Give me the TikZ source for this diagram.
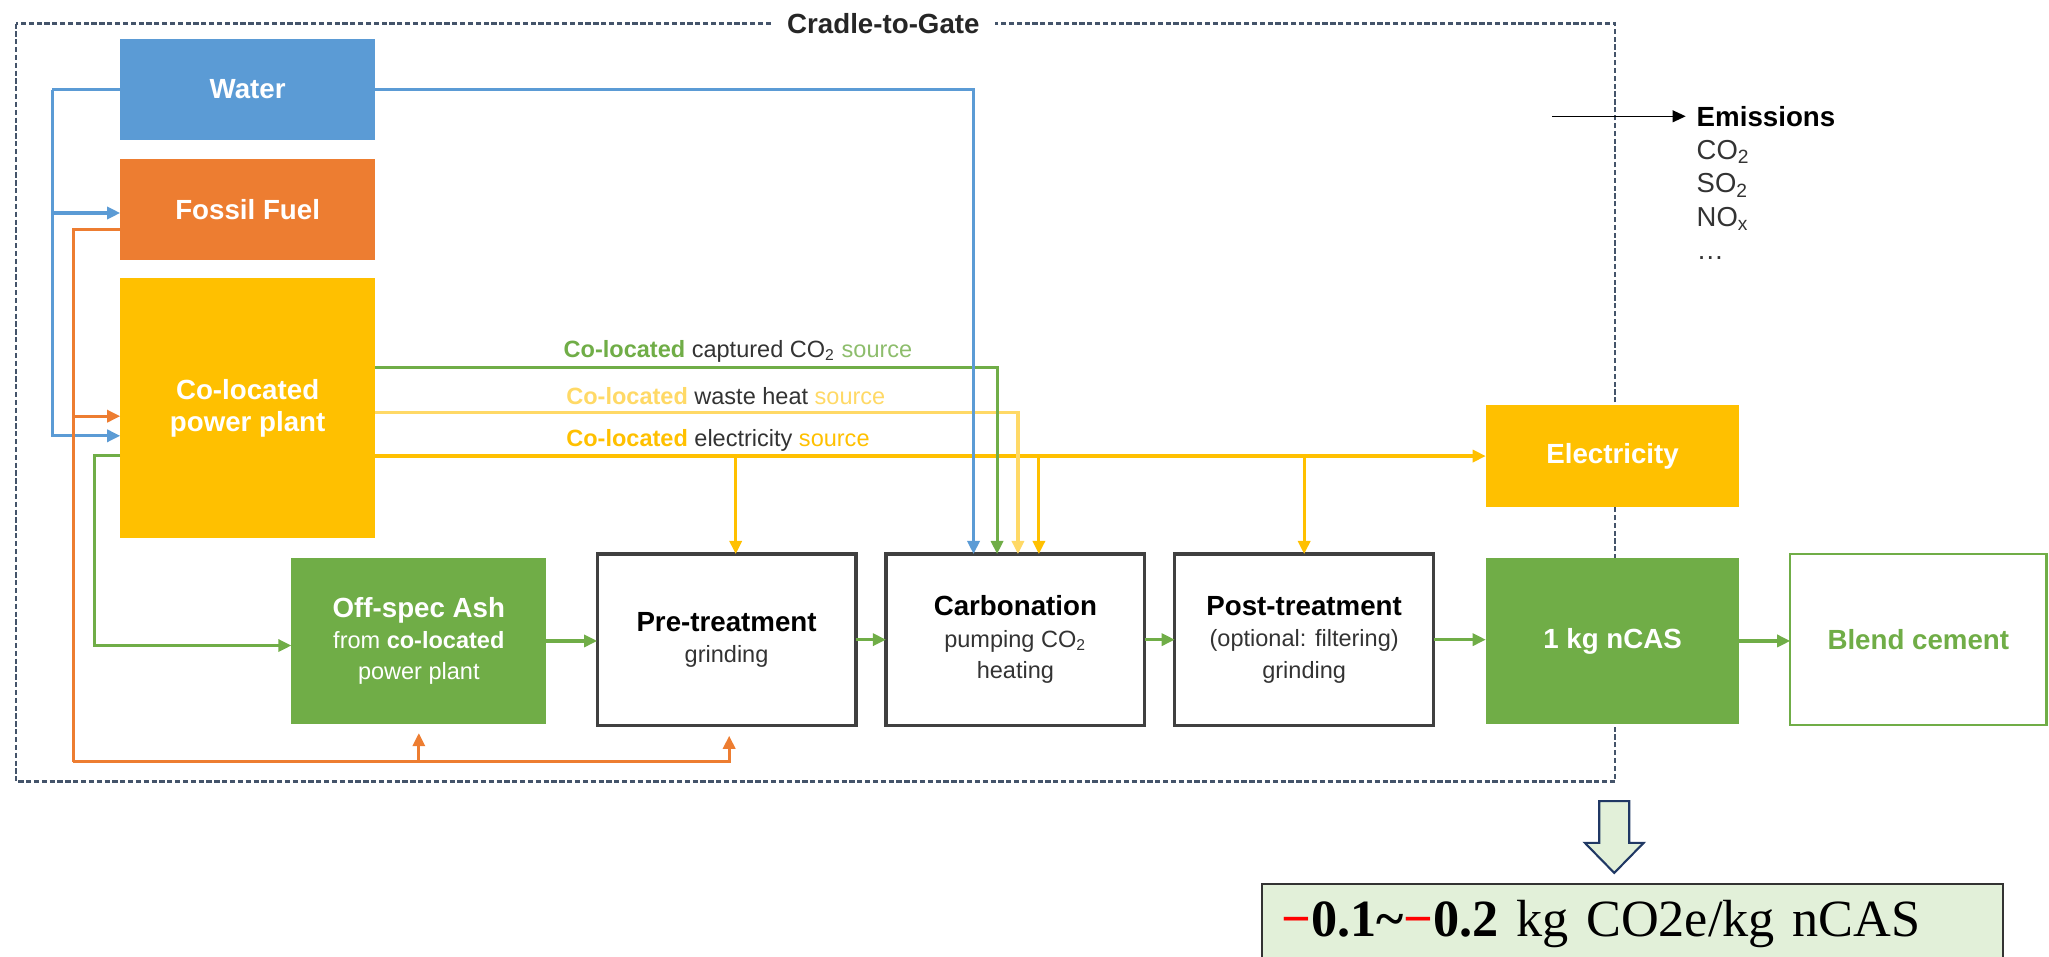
\documentclass[tikz,border=0pt]{standalone}
\usepackage{fontspec}
\setmainfont{Liberation Sans}
\newfontfamily\resfont{Liberation Serif}
\usetikzlibrary{positioning, arrows.meta, calc}

\definecolor{cblue}{HTML}{5B9BD5}
\definecolor{corange}{HTML}{ED7D31}
\definecolor{cgold}{HTML}{FFC000}
\definecolor{cgreen}{HTML}{70AD47}
\definecolor{cpale}{HTML}{FFD966}
\definecolor{cslate}{HTML}{44546A}
\definecolor{cmint}{HTML}{E2F0D9}
\definecolor{cnavy}{HTML}{203864}
\definecolor{cink}{HTML}{333333}

\newcommand{\ttl}[1]{{\fontsize{10.6}{12}\selectfont\bfseries #1}}

\begin{document}
\begin{tikzpicture}[
    x=0.5pt, y=-0.5pt,
    font=\fontsize{9}{12}\selectfont,
    box/.style={rectangle, inner sep=2pt, outer sep=0pt, align=center,
                minimum width=97.5pt},
    filled/.style={box, fill=#1, text=white},
    proc/.style={box, draw=black!75, line width=1.2pt, fill=white, text=cink,
                 minimum width=99pt, minimum height=65.5pt},
    flow/.style={line width=1.2pt, -{Triangle[length=5pt,width=4.6pt]}},
    pipe/.style={line width=1.2pt},
    lbl/.style={anchor=west, inner sep=0pt, text=cink},
    gateframe/.style={draw=cslate, line width=0.9pt, dash pattern=on 2pt off 1pt},
  ]

\useasboundingbox (0,0) rectangle (1568,732);
\clip (0,0) rectangle (1568,732);

% system boundary
\draw[gateframe] (12,18) rectangle (1236,598);
\node[fill=white, inner xsep=6pt, inner ysep=1pt, text=black!85] (cradle) at (676,18) {\ttl{Cradle-to-Gate}};

% sources
\node[filled=cblue, minimum height=38.5pt] (water) at (189.5,68.5) {\ttl{Water}};
\node[filled=corange, minimum height=38.5pt] (fossil) at (189.5,160.5) {\ttl{Fossil Fuel}};
\node[filled=cgold, minimum height=99.5pt] (plant) at (189.5,312.5) {\ttl{Co-located}\\\ttl{power plant}};

% process chain
\node[filled=cgreen, minimum height=63.5pt] (ash) at (320.5,490.5)
    {\ttl{Off-spec Ash}\\from \textbf{co-located}\\power plant};
\node[proc] (pre) at (556,489.5) {\textcolor{black}{\ttl{Pre-treatment}}\\grinding};
\node[proc] (carb) at (777,489.5) {\textcolor{black}{\ttl{Carbonation}}\\pumping CO\textsubscript{2}\\heating};
\node[proc] (post) at (998,489.5) {\textcolor{black}{\ttl{Post-treatment}}\\(optional: filtering)\\grinding};
\node[filled=cgreen, minimum width=97pt, minimum height=63.5pt] (ncas) at (1234,490.5) {\ttl{1 kg nCAS}};
\node[box, draw=cgreen, line width=0.9pt, text=cgreen, minimum width=98pt,
      minimum height=65.5pt] (blend) at (1468,489.5) {\ttl{Blend cement}};
\node[filled=cgold, minimum width=97pt, minimum height=39pt] (elec) at (1234,349) {\ttl{Electricity}};

% left-side feeds
\coordinate (wbus) at ($(water.west)+(-52,0)$);
\draw[pipe, cblue] (water.west) -- (wbus);
\draw[flow, cblue] (wbus) |- ($(fossil.west)+(0,2.5)$);
\draw[flow, cblue] (wbus) |- ($(plant.west)+(0,21)$);

\coordinate (fbus) at ($(fossil.west)+(-36,15)$);
\coordinate (fbot) at (56,583);
\draw[pipe, corange] ($(fossil.west)+(0,15)$) -- (fbus) -- (fbot);
\draw[flow, corange] (fbot) -| ($(pre.south)+(2,8)$);
\draw[flow, corange] (fbot) -| ($(ash.south)+(0,7)$);
\draw[flow, corange] ($(fbus |- plant.west)+(0,6)$) -- ($(plant.west)+(0,6)$);

\draw[flow, cgreen] ($(plant.west)+(0,36)$) -- ++(-20,0) |- ($(ash.west)+(0,3.5)$);

% co-located supplies
\draw[flow, cgold] (plant.east |- elec.west) -- (elec.west);
\foreach \n/\dx in {pre/7, carb/18, post/0}
    \draw[flow, cgold] ($(\n.north |- elec.west)+(\dx,0)$) -- ($(\n.north)+(\dx,0)$);
\draw[flow, cpale] ($(plant.east)+(0,3)$) -| ($(carb.north)+(2,0)$);
\draw[flow, cgreen] ($(plant.east)+(0,-31)$) -| ($(carb.north)+(-14,0)$);
\draw[flow, cblue] (water.east) -| ($(carb.north)+(-32,0)$);

\node[lbl] (lblco2) at (431,269)
    {\textcolor{cgreen}{\textbf{Co-located}} captured CO\textsubscript{2} \textcolor{cgreen!80}{source}};
\node[lbl] (lblheat) at (433,303)
    {\textcolor{cpale}{\textbf{Co-located}} waste heat \textcolor{cpale}{source}};
\node[lbl] (lblelec) at (433,337)
    {\textcolor{cgold}{\textbf{Co-located}} electricity \textcolor{cgold}{source}};

% main flow
\draw[flow, cgreen] (ash.east) -- (ash.east -| pre.west);
\draw[flow, cgreen] (pre) -- (carb);
\draw[flow, cgreen] (carb) -- (post);
\draw[flow, cgreen] (post.east) -- (post.east -| ncas.west);
\draw[flow, cgreen] (ncas.east) -- (ncas.east -| blend.west);

% emissions
\node[anchor=west, inner sep=0pt] (emis) at (1298,89) {\ttl{Emissions}};
\node[anchor=north west, inner sep=0pt, align=left, text=cink,
      font=\fontsize{10.5}{12.75}\selectfont] (gases) at (1298,107)
    {CO\textsubscript{2}\\SO\textsubscript{2}\\NO\textsubscript{x}\\\ldots};
\coordinate (emisfrom) at (1188,89);
\draw[-{Triangle[length=5pt,width=4.5pt]}, line width=0.6pt] (emisfrom) -- ($(emis.west)+(-8,0)$);

% result
\node[anchor=north west, draw=black!80, line width=0.8pt, fill=cmint, text width=268.5pt,
      inner xsep=7.5pt, inner ysep=0pt, minimum height=30pt, align=left,
      font=\resfont\fontsize{20}{24}\selectfont] (result) at (965,676)
    {\textbf{\textcolor{red}{−}0.1\textasciitilde\textcolor{red}{−}0.2} kg CO2e/kg nCAS};
\coordinate (tip) at ($(result.north)+(-14,-8)$);
\draw[draw=cnavy, fill=cmint, line width=0.8pt] (tip) -- ++(-22.5,-23) -- ++(11,0) -- ++(0,-32)
    -- ++(23,0) -- ++(0,32) -- ++(11,0) -- cycle;
\end{tikzpicture}
\end{document}
